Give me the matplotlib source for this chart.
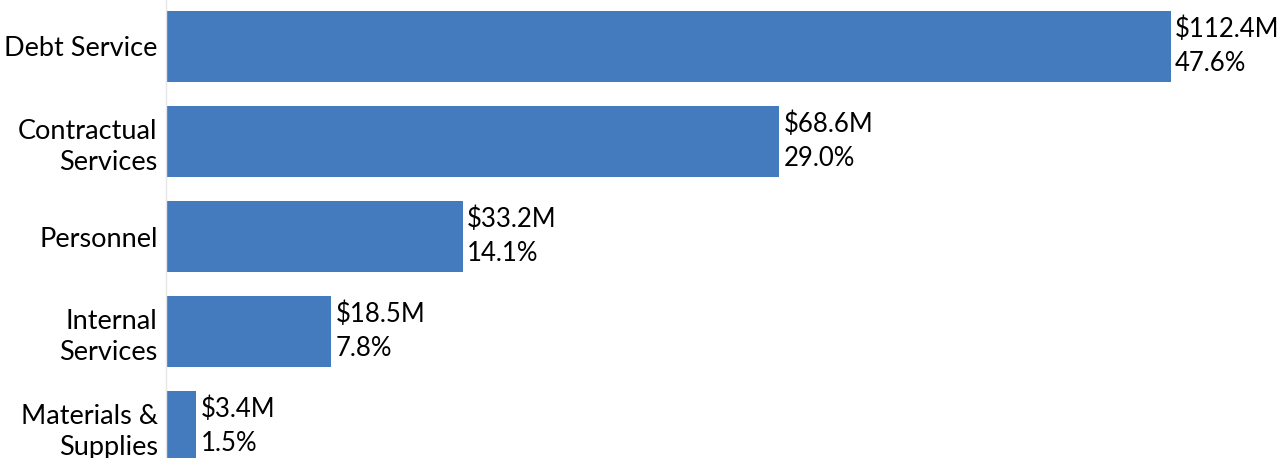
import matplotlib.pyplot as plt
import matplotlib as mpl

mpl.rcParams.update({'font.family': ['Lato', 'DejaVu Sans'], 'font.size': 18.5})

categories = ['Debt Service', 'Contractual\nServices', 'Personnel', 'Internal\nServices', 'Materials &\nSupplies']
amounts = [112.4, 68.6, 33.2, 18.5, 3.4]  # $M
shares = [47.6, 29.0, 14.1, 7.8, 1.5]  # %

fig = plt.figure(figsize=(12.86, 4.58), dpi=100)
ax = fig.add_axes([166 / 1286, 0, 1 - 166 / 1286, 1])

pos = list(range(len(categories)))
bars = ax.barh(pos, amounts, height=0.75, color='#447bbf')

for b, amt, sh in zip(bars, amounts, shares):
    ax.text(b.get_width() + 0.45, b.get_y() + b.get_height() / 2, f'${amt:.1f}M\n{sh:.1f}%',
            va='center', ha='left', linespacing=1.45)

ax.set_xlim(0, (1286 - 166) / 8.94)
ax.set_ylim(4.33, -0.489)
ax.set_yticks(pos)
ax.set_yticklabels(categories, linespacing=1.3, fontsize=19.5)
ax.tick_params(axis='y', length=0, pad=6)
ax.set_xticks([])
for s in ['top', 'right', 'bottom']:
    ax.spines[s].set_visible(False)
ax.spines['left'].set_color('#e6e6e6')
ax.spines['left'].set_linewidth(1)

fig.savefig('out.png', dpi=100)
